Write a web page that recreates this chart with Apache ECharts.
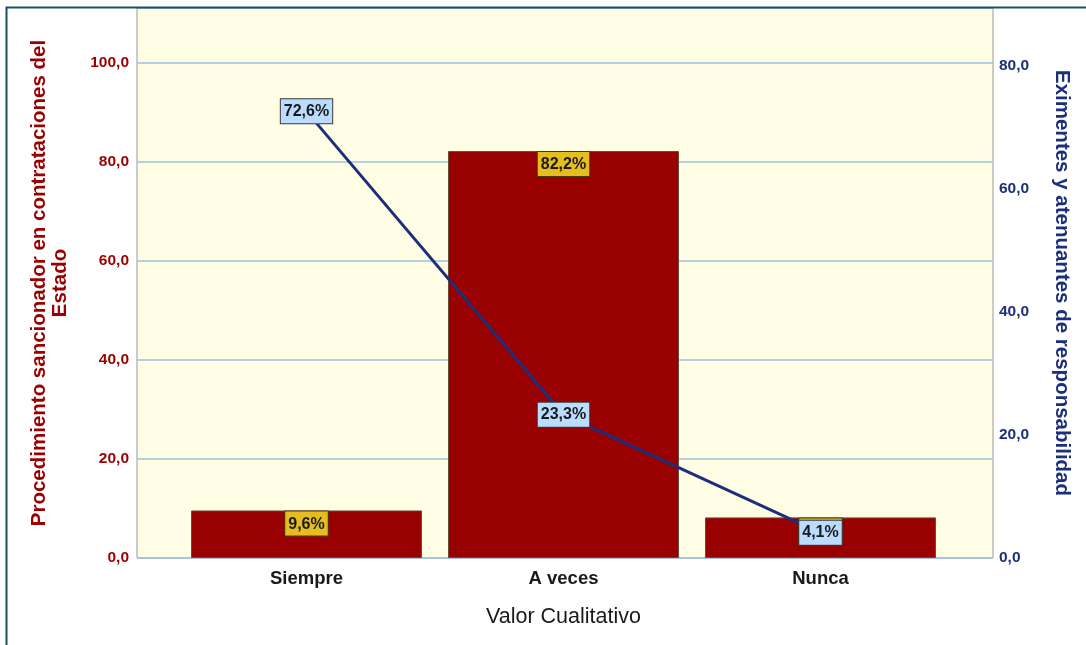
<!DOCTYPE html>
<html>
<head>
<meta charset="utf-8">
<script src="https://cdn.jsdelivr.net/npm/echarts@6/dist/echarts.min.js"></script>
<style>
  html, body { margin: 0; padding: 0; background: #ffffff; }
  #chart { width: 1086px; height: 645px; }
</style>
</head>
<body>
<div id="chart"></div>
<script>
// Categories and values
const categories = ['Siempre', 'A veces', 'Nunca'];
const procedimientoPct = [9.6, 82.2, 8.2];   // bars, left axis
const eximentesPct = [72.6, 23.3, 4.1];      // line, right axis

const leftMax = 111.1;
const rightMax = 89.4;

const fmtTick = v => v.toFixed(1).replace('.', ',');
const fmtPct = p => p.value.toFixed(1).replace('.', ',') + '%';

const FONT = 'Liberation Sans, Arial, sans-serif';
const NARROW = 'Liberation Sans Narrow, Liberation Sans, Arial, sans-serif';
const RED = '#9a0000';
const NAVY = '#1c2f7c';

const chart = echarts.init(document.getElementById('chart'), null, { renderer: 'canvas' });

chart.setOption({
  backgroundColor: '#ffffff',
  animation: false,
  graphic: [{
    type: 'rect',
    shape: { x: 6.5, y: 7.5, width: 1200, height: 800 },
    style: { fill: 'none', stroke: '#1d4f62', lineWidth: 2 },
    z: 100
  }],
  grid: [
    { left: 137, right: 93, top: 8, bottom: 87, show: true,
      backgroundColor: '#fffde4', borderColor: '#9a9a9a', borderWidth: 1 },
    { left: 178, right: 137, top: 8, bottom: 87 }
  ],
  xAxis: [
    { type: 'category', gridIndex: 0, data: categories, show: false },
    { type: 'category', gridIndex: 1, data: categories,
      axisLine: { show: false }, axisTick: { show: false },
      axisLabel: { margin: 11, fontFamily: FONT, fontWeight: 'bold', fontSize: 18.5, color: '#1a1a1a' },
      name: 'Valor Cualitativo', nameLocation: 'middle', nameGap: 48,
      nameTextStyle: { fontFamily: FONT, fontSize: 21.5, color: '#1a1a1a' } }
  ],
  yAxis: [
    { type: 'value', gridIndex: 0, min: 0, max: leftMax, interval: 20, position: 'left',
      axisLine: { show: false }, axisTick: { show: false },
      axisLabel: { formatter: fmtTick, showMaxLabel: false, margin: 8,
        fontFamily: FONT, fontWeight: 'bold', fontSize: 15.5, color: RED },
      splitLine: { show: true, lineStyle: { color: '#9cc0e0', width: 1.5 } },
      name: 'Procedimiento sancionador en contrataciones del\nEstado',
      nameLocation: 'middle', nameRotate: 90, nameGap: 66,
      nameTextStyle: { fontFamily: FONT, fontWeight: 'bold', fontSize: 20.5, color: RED, lineHeight: 21, align: 'center' } },
    { type: 'value', gridIndex: 0, min: 0, max: rightMax, interval: 20, position: 'right',
      axisLine: { show: false }, axisTick: { show: false },
      axisLabel: { formatter: fmtTick, showMaxLabel: false, margin: 6,
        fontFamily: FONT, fontWeight: 'bold', fontSize: 15.5, color: NAVY },
      splitLine: { show: false },
      name: 'Eximentes y atenuantes de responsabilidad',
      nameLocation: 'middle', nameRotate: -90, nameGap: 58,
      nameTextStyle: { fontFamily: FONT, fontWeight: 'bold', fontSize: 20.5, color: NAVY } },
    { type: 'value', gridIndex: 1, min: 0, max: leftMax, show: false },
    { type: 'value', gridIndex: 1, min: 0, max: rightMax, show: false }
  ],
  series: [
    { name: 'Procedimiento', type: 'bar', xAxisIndex: 1, yAxisIndex: 2,
      data: procedimientoPct, barWidth: 231, z: 2,
      itemStyle: { color: '#990000', borderColor: '#6b4a3a', borderWidth: 1 },
      label: { show: true, position: 'insideTop', distance: 1, formatter: fmtPct,
        fontFamily: NARROW, fontWeight: 'bold', fontSize: 16, color: '#1a1a1a',
        backgroundColor: '#e6bd1e', borderColor: '#4a3a10', borderWidth: 1,
        padding: [5, 3, 3, 3] } },
    { name: 'Eximentes', type: 'line', xAxisIndex: 1, yAxisIndex: 3,
      data: eximentesPct, symbol: 'circle', symbolSize: 2, showSymbol: true, z: 5,
      itemStyle: { color: '#1c2f7c' },
      lineStyle: { color: '#1c2f7c', width: 3 },
      labelLayout: { hideOverlap: false },
      label: { show: true, position: 'inside', formatter: fmtPct,
        fontFamily: NARROW, fontWeight: 'bold', fontSize: 16, color: '#1a1a1a',
        backgroundColor: '#bcdcff', borderColor: '#3a3a3a', borderWidth: 1,
        padding: [5, 3, 3, 3] } }
  ]
});
</script>
</body>
</html>
